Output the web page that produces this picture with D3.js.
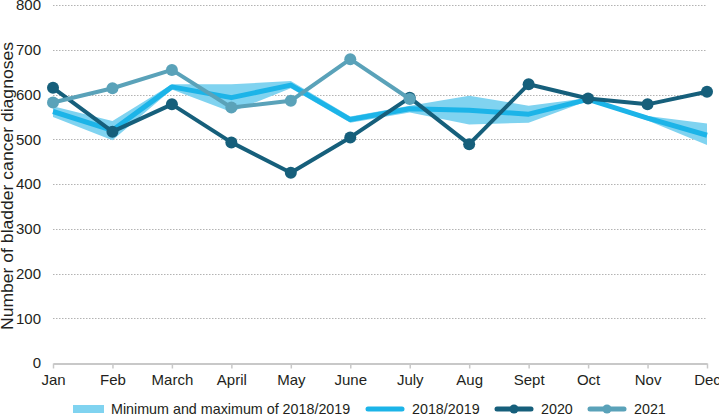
<!DOCTYPE html>
<html>
<head>
<meta charset="utf-8">
<script src="https://cdn.jsdelivr.net/npm/d3@7"></script>
<style>
  body { margin: 0; background: #fff; }
  text { font-family: "Liberation Sans", Arial, sans-serif; fill: #231f20; }
</style>
</head>
<body>
<svg id="chart"></svg>
<script>
'use strict';

let WIDTH = 719;
let HEIGHT = 416;

// data
let months = ['Jan', 'Feb', 'March', 'April', 'May', 'June', 'July', 'Aug', 'Sept', 'Oct', 'Nov', 'Dec'];
let yTicks = [0, 100, 200, 300, 400, 500, 600, 700, 800];
let min1819 = [550, 498, 611, 561, 614, 537, 560, 533, 537, 586, 542, 487];
let max1819 = [574, 541, 623, 623, 630, 551, 575, 597, 575, 592, 552, 535];
let avg1819 = [562, 520, 617, 593, 621, 544, 568, 565, 556, 589, 547, 509];
let y2020 = [615, 517, 578, 493, 425, 504, 593, 489, 623, 591, 578, 606];
let y2021 = [582, 614, 655, 571, 586, 679, 590];

let COLOR = {
    BAND: '#80d3f0',
    AVG: '#1cb4e8',
    Y2020: '#165f7b',
    Y2021: '#5aa2b9',
    GRID: '#b3b3b3',
    AXIS: '#c8c8c8'
};

let margin = { left: 53, right: 12, top: 5, bottom: 53 };

let svg = d3.select('#chart').attr('width', WIDTH).attr('height', HEIGHT);

let x = d3.scalePoint().domain(months).range([margin.left, WIDTH - margin.right]);
let y = d3.scaleLinear().domain([0, 800]).range([HEIGHT - margin.bottom, margin.top]);

// grid
svg.append('g')
    .selectAll('line')
    .data(yTicks.filter(function(d) { return d > 0; }))
    .enter()
    .append('line')
    .attr('x1', margin.left)
    .attr('x2', WIDTH - margin.right)
    .attr('y1', function(d) { return Math.round(y(d)) + 0.5; })
    .attr('y2', function(d) { return Math.round(y(d)) + 0.5; })
    .attr('stroke', COLOR.GRID)
    .attr('stroke-width', 1)
    .attr('stroke-dasharray', '1.5,1.5');

// y axis labels
let yAxis = svg.append('g')
    .attr('transform', 'translate(' + (margin.left - 12) + ',0)')
    .call(d3.axisLeft(y).tickValues(yTicks).tickSize(0).tickPadding(0));
yAxis.select('.domain').remove();
yAxis.selectAll('text').style('font-size', '15px').attr('fill', '#231f20');

// x axis
let xAxis = svg.append('g')
    .attr('transform', 'translate(0,' + (y(0) + 0.5) + ')')
    .call(d3.axisBottom(x).tickSize(5).tickPadding(6).tickSizeOuter(0));
xAxis.select('.domain').attr('stroke', COLOR.AXIS).attr('stroke-width', 2);
xAxis.selectAll('line').attr('stroke', COLOR.AXIS).attr('stroke-width', 1.5);
xAxis.selectAll('text').style('font-size', '15px').attr('fill', '#231f20');

// y title (stretched like the original)
svg.append('text')
    .attr('transform', 'translate(13,' + ((y(0) + y(800)) / 2 + 2) + ') rotate(-90)')
    .attr('text-anchor', 'middle')
    .attr('textLength', 288)
    .attr('lengthAdjust', 'spacingAndGlyphs')
    .style('font-size', '16px')
    .text('Number of bladder cancer diagnoses');

// min/max band
let band = months.map(function(m, i) { return { m: m, lo: min1819[i], hi: max1819[i] }; });
svg.append('path')
    .datum(band)
    .attr('fill', COLOR.BAND)
    .attr('d', d3.area()
        .x(function(d) { return x(d.m); })
        .y0(function(d) { return y(d.lo); })
        .y1(function(d) { return y(d.hi); }));

function drawLine(values, color, width, dots) {
    let pts = values.map(function(v, i) { return { m: months[i], v: v }; });
    svg.append('path')
        .datum(pts)
        .attr('fill', 'none')
        .attr('stroke', color)
        .attr('stroke-width', width)
        .attr('stroke-linejoin', 'round')
        .attr('d', d3.line()
            .x(function(d) { return x(d.m); })
            .y(function(d) { return y(d.v); }));
    if (dots) {
        svg.append('g')
            .selectAll('circle')
            .data(pts)
            .enter()
            .append('circle')
            .attr('cx', function(d) { return x(d.m); })
            .attr('cy', function(d) { return y(d.v); })
            .attr('r', 6)
            .attr('fill', color);
    }
}

drawLine(avg1819, COLOR.AVG, 5, false);
drawLine(y2020, COLOR.Y2020, 4, true);
drawLine(y2021, COLOR.Y2021, 4, true);

// legend
let legend = svg.append('g').attr('transform', 'translate(0,409)');
legend.append('rect')
    .attr('x', 73).attr('y', -4).attr('width', 31).attr('height', 8)
    .attr('fill', COLOR.BAND);
legend.append('text').attr('x', 111).attr('y', 5).style('font-size', '14.3px')
    .text('Minimum and maximum of 2018/2019');

let legendItems = [
    { x: 368, label: '2018/2019', color: COLOR.AVG, dot: false },
    { x: 497, label: '2020', color: COLOR.Y2020, dot: true },
    { x: 590, label: '2021', color: COLOR.Y2021, dot: true }
];
legendItems.forEach(function(d) {
    legend.append('line')
        .attr('x1', d.x).attr('x2', d.x + 34).attr('y1', 0).attr('y2', 0)
        .attr('stroke', d.color).attr('stroke-width', 5).attr('stroke-linecap', 'round');
    if (d.dot) {
        legend.append('circle').attr('cx', d.x + 17).attr('cy', 0).attr('r', 4.5).attr('fill', d.color);
    }
    legend.append('text').attr('x', d.x + 44).attr('y', 5).style('font-size', '14.3px').text(d.label);
});
</script>
</body>
</html>
